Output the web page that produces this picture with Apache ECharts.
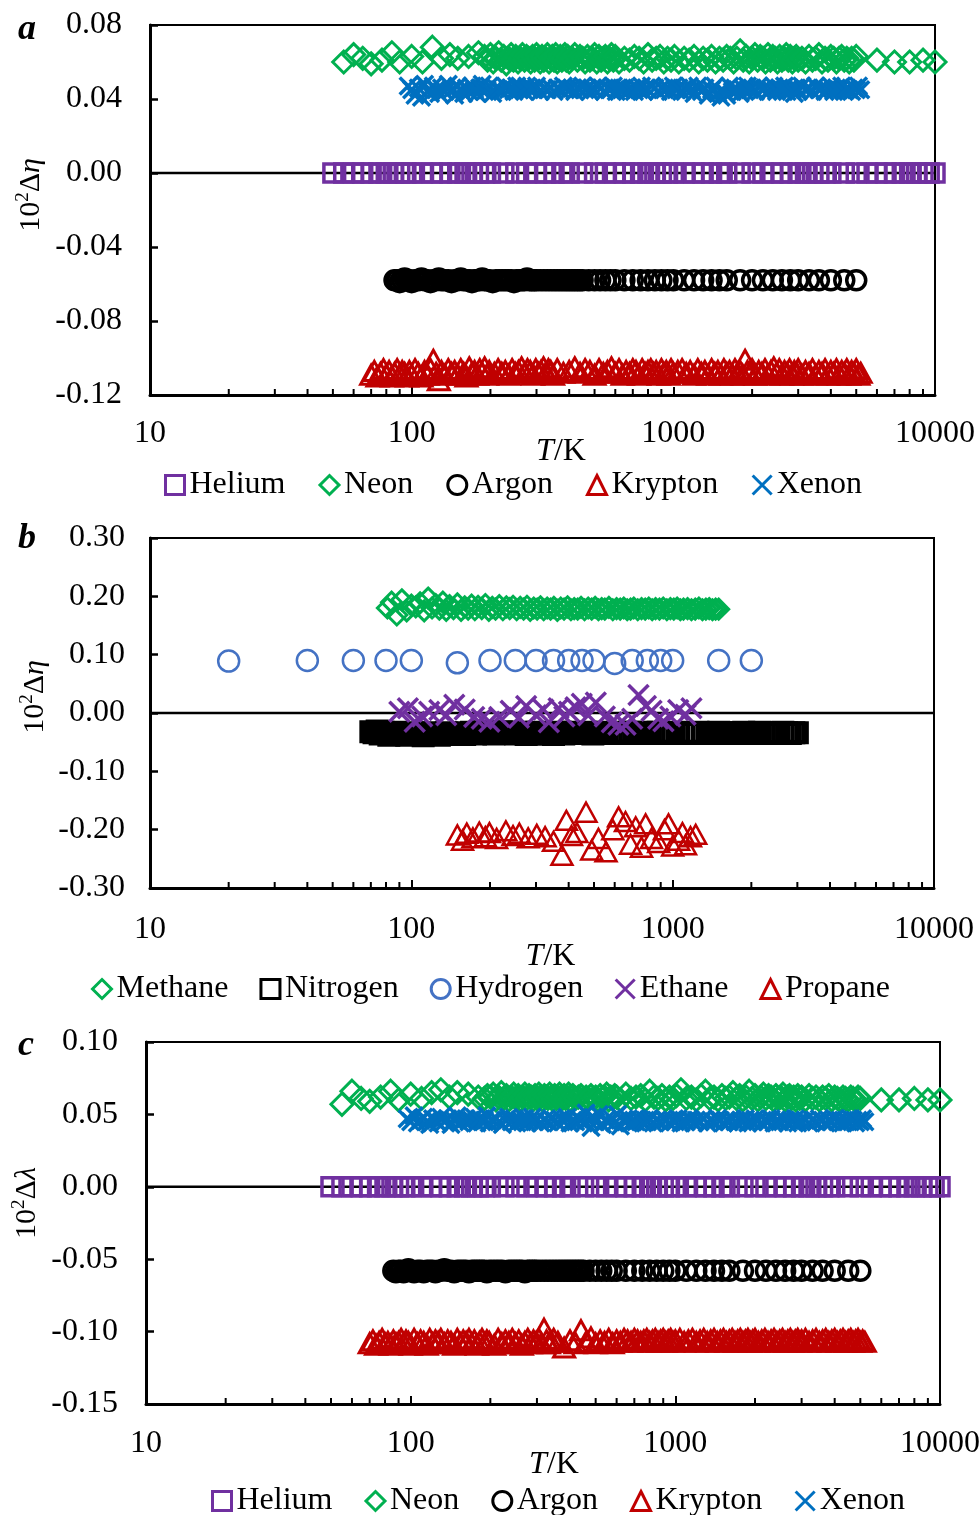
<!DOCTYPE html>
<html><head><meta charset="utf-8">
<script src="https://cdn.jsdelivr.net/npm/echarts@6/dist/echarts.min.js"></script>
<style>html,body{margin:0;padding:0;background:#fff}#c{width:979px;height:1515px}</style>
</head><body><div id="c"></div>
<script>
const FONT = '"Liberation Serif","Times New Roman",serif';

// ---------- tick values ----------
const minorTickValues = [20,30,40,50,60,70,80,90,200,300,400,500,600,700,800,900,2000,3000,4000,5000,6000,7000,8000,9000];

// ---------- panels a & c : noble gases (temperatures, K) ----------
const heliumT = [50,55,60,65,70,75,80,85,90,95,100,110,120,130,140,150,160,170,180,190,200,225,250,275,300,325,350,375,400,450,500,550,600,650,700,750,800,850,900,950,1000,1100,1200,1300,1400,1500,1600,1800,2000,2200,2400,2600,2800,3000,3200,3400,3600,3800,4000,4500,5000,5500,6000,6500,7000,7500,8000,8500,9000,9500,10000];
const neonT = [55,60,65,70,77,84,90,100,110,120,130,140,150,165,180,
  190,195,200,205,210,215,220,225,230,235,240,245,250,255,260,265,270,275,280,285,290,295,300,305,310,315,320,325,330,335,340,345,350,355,360,365,370,375,380,385,390,395,400,
  410,420,430,440,450,460,470,480,490,500,510,520,530,540,550,560,570,580,590,600,
  620,650,680,710,740,770,800,830,860,890,920,950,980,1010,
  1050,1100,1150,1200,1250,1300,1350,1400,1450,1500,1550,1600,1650,1700,
  1750,1800,1850,1900,1950,2000,2050,2100,2150,2200,2250,2300,2350,2400,2450,2500,2550,2600,2650,2700,2750,2800,2850,2900,2950,3000,
  3100,3200,3300,3400,3500,3600,3700,3800,3900,4000,4100,4200,4300,4400,4500,4600,4700,4800,4900,5000,
  6000,7000,8000,9000,10000];
const argonT = [86,88,90,92,94,96,98,100,
  103,106,109,112,115,118,121,124,127,130,
  134,138,142,146,150,154,158,162,166,170,174,178,182,186,190,194,198,
  204,210,216,222,228,234,240,246,252,258,264,270,276,282,288,294,300,
  310,320,330,340,350,360,370,380,390,400,410,420,430,440,450,
  475,500,525,550,575,600,
  650,700,750,800,850,900,950,1000,
  1100,1200,1300,1400,1500,1600,1800,2000,2200,2400,2600,2800,3000,3300,3600,4000,4500,5000];
const kryptonT = [70,72,74,76,78,80,82,84,86,88,90,92,94,96,98,100,
  103,106,109,112,115,118,121,124,127,130,
  134,138,142,146,150,154,158,162,166,170,174,178,182,186,190,194,198,
  207,214,221,228,235,242,249,256,263,270,277,284,291,298,305,312,319,326,333,340,347,
  360,380,400,420,440,460,480,500,520,540,560,580,600,
  620,640,660,680,700,720,740,760,780,800,820,840,860,880,900,920,940,960,980,1000,
  1040,1080,1120,1160,1200,1240,1280,1320,1360,1400,1440,1480,1520,1560,1600,1640,1680,1720,1760,1800,1840,1880,1920,1960,2000,
  2060,2120,2180,2240,2300,2360,2420,2480,2540,2600,2660,2720,2780,2840,2900,2960,3000,
  3100,3200,3300,3400,3500,3600,3700,3800,3900,4000,4100,4200,4300,4400,4500,4600,4700,4800,4900,5000,5100,5200];
const xenonT = [97,
  100,103,106,109,112,115,118,121,124,127,130,
  134,138,142,146,150,154,158,162,166,170,174,178,182,186,190,194,198,
  204,210,216,222,228,234,240,246,252,258,264,270,276,282,288,294,300,
  310,320,330,340,350,360,370,380,390,400,410,420,430,440,450,460,470,480,490,500,
  515,530,545,560,575,590,605,620,635,650,665,680,695,710,725,740,755,770,785,800,
  825,850,875,900,925,950,975,1000,1025,1050,1075,1100,1125,1150,1175,1200,
  1240,1280,1320,1360,1400,1440,1480,1520,1560,1600,1640,1680,1720,1760,1800,1840,1880,1920,1960,2000,
  2060,2120,2180,2240,2300,2360,2420,2480,2540,2600,2660,2720,2780,2840,2900,2960,3000,
  3100,3200,3300,3400,3500,3600,3700,3800,3900,4000,4100,4200,4300,4400,4500,4600,4700,4800,4900,5000,5100,5200];

// panel a: 10^2 Δη
const heliumDevA = [0,0,0,0,0,0,0,0,0,0,0,0,0,0,0,0,0,0,0,0,0,0,0,0,0,0,0,0,0,0,0,0,0,0,0,0,0,0,0,0,0,0,0,0,0,0,0,0,0,0,0,0,0,0,0,0,0,0,0,0,0,0,0,0,0,0,0,0,0,0,0];
const neonDevA = [0.060,0.064,0.062,0.059,0.061,0.065,0.060,0.063,0.060,0.068,0.062,0.064,0.062,0.063,0.065,
  0.063,0.061,0.064,0.060,0.062,0.065,0.061,0.063,0.059,0.062,
  0.064,0.061,0.063,0.060,0.062,0.064,0.061,0.063,0.062,0.060,
  0.063,0.061,0.064,0.062,0.060,0.063,0.061,0.062,0.064,0.060,
  0.062,0.063,0.061,0.064,0.060,0.062,0.063,0.061,0.062,0.064,
  0.061,0.063,0.060,0.062,0.064,0.061,0.063,0.062,0.060,0.063,
  0.061,0.062,0.064,0.060,0.063,0.061,0.062,0.063,0.060,0.062,
  0.064,0.061,0.063,0.060,0.062,0.061,0.063,0.062,0.060,0.064,
  0.061,0.062,0.063,0.060,0.062,0.061,0.063,0.060,0.062,0.061,
  0.063,0.060,0.062,0.061,0.063,0.060,0.062,0.061,0.063,0.062,
  0.060,0.062,0.066,0.061,0.063,0.060,0.062,0.064,0.061,0.063,
  0.062,0.060,0.064,0.061,0.063,0.062,0.060,0.063,0.061,0.062,
  0.064,0.061,0.063,0.060,0.062,0.063,0.061,0.062,0.060,0.063,
  0.061,0.062,0.064,0.060,0.062,0.061,0.063,0.062,0.060,0.062,
  0.063,0.061,0.062,0.060,0.062,0.061,0.063,
  0.061,0.060,0.060,0.061,0.060];
const argonDevA = [-0.058,-0.058,-0.059,-0.058,-0.057,-0.058,-0.058,-0.059,-0.058,-0.058,
  -0.057,-0.058,-0.058,-0.059,-0.058,-0.058,-0.057,-0.058,-0.058,-0.058,
  -0.059,-0.058,-0.058,-0.057,-0.058,-0.058,-0.058,-0.059,-0.058,-0.058,
  -0.058,-0.057,-0.058,-0.058,-0.058,-0.059,-0.058,-0.058,-0.058,-0.058,
  -0.058,-0.058,-0.059,-0.058,-0.058,-0.058,-0.058,-0.057,-0.058,-0.058,
  -0.058,-0.058,-0.058,-0.058,-0.058,-0.058,-0.058,-0.058,-0.058,-0.058,
  -0.058,-0.058,-0.058,-0.058,-0.058,-0.058,-0.058,-0.058,-0.058,-0.058,
  -0.058,-0.058,-0.058,-0.058,-0.058,-0.058,-0.058,-0.058,-0.058,-0.058,
  -0.058,-0.058,-0.058,-0.058,-0.058,-0.058,-0.058,-0.058,-0.058,-0.058,
  -0.058,-0.058,-0.058,-0.058,-0.058,-0.058,-0.058,-0.058,-0.058];
const kryptonDevA = [-0.109,-0.107,-0.110,-0.108,-0.106,-0.109,-0.107,-0.110,-0.108,-0.106,
  -0.109,-0.107,-0.108,-0.110,-0.107,-0.109,-0.106,-0.108,-0.110,-0.107,
  -0.109,-0.106,-0.101,-0.108,-0.112,-0.107,-0.109,-0.106,-0.108,-0.107,
  -0.109,-0.106,-0.108,-0.110,-0.105,-0.108,-0.107,-0.109,-0.106,-0.108,
  -0.105,-0.109,-0.107,-0.108,-0.106,-0.108,-0.107,-0.109,-0.106,-0.108,
  -0.107,-0.105,-0.108,-0.106,-0.107,-0.109,-0.106,-0.108,-0.107,-0.105,
  -0.108,-0.106,-0.107,-0.109,-0.106,-0.108,-0.107,-0.105,-0.108,-0.106,
  -0.107,-0.109,-0.106,-0.108,-0.107,-0.105,-0.108,-0.106,-0.109,-0.107,
  -0.108,-0.106,-0.107,-0.109,-0.106,-0.108,-0.107,-0.106,-0.108,-0.107,
  -0.109,-0.106,-0.108,-0.107,-0.109,-0.106,-0.108,-0.107,-0.106,-0.108,
  -0.107,-0.109,-0.106,-0.108,-0.107,-0.109,-0.106,-0.108,-0.107,-0.109,
  -0.106,-0.108,-0.107,-0.109,-0.106,-0.108,-0.107,-0.109,-0.101,-0.107,
  -0.108,-0.106,-0.109,-0.107,-0.108,-0.106,-0.109,-0.107,-0.105,-0.108,
  -0.106,-0.109,-0.107,-0.108,-0.106,-0.109,-0.107,-0.108,-0.106,-0.109,
  -0.107,-0.108,-0.106,-0.109,-0.107,-0.108,-0.106,-0.109,-0.107,-0.108,
  -0.106,-0.109,-0.107,-0.108,-0.106,-0.109,-0.107,-0.108,-0.106,-0.109,
  -0.108];
const xenonDevA = [0.047,0.045,0.042,0.046,0.041,0.048,0.044,0.043,0.047,0.045,
  0.043,0.046,0.044,0.048,0.045,0.042,0.047,0.045,0.043,0.046,
  0.044,0.047,0.045,0.043,0.046,0.048,0.044,0.045,0.047,0.043,
  0.046,0.045,0.044,0.047,0.045,0.046,0.044,0.047,0.045,0.046,
  0.044,0.047,0.045,0.046,0.045,0.047,0.044,0.046,0.045,0.046,
  0.044,0.046,0.045,0.047,0.046,0.045,0.046,0.044,0.046,0.045,
  0.047,0.045,0.046,0.044,0.046,0.045,0.047,0.046,0.044,0.046,
  0.045,0.047,0.044,0.046,0.045,0.046,0.044,0.045,0.046,0.044,
  0.046,0.045,0.047,0.044,0.046,0.045,0.047,0.046,0.044,0.046,
  0.045,0.046,0.044,0.047,0.045,0.046,0.044,0.046,0.045,0.047,
  0.045,0.043,0.047,0.044,0.046,0.042,0.045,0.047,0.043,0.041,
  0.044,0.042,0.047,0.044,0.046,0.045,0.043,0.046,0.044,0.047,
  0.045,0.046,0.044,0.047,0.045,0.046,0.044,0.045,0.047,0.044,
  0.046,0.045,0.047,0.044,0.046,0.045,0.043,0.046,0.044,0.047,
  0.045,0.046,0.044,0.047,0.045,0.046,0.044,0.045,0.047,0.044,
  0.046,0.045,0.047,0.044,0.046,0.045,0.044,0.046,0.045,0.047,
  0.045];

// panel c: 10^2 Δλ
const heliumDevC = [0,0,0,0,0,0,0,0,0,0,0,0,0,0,0,0,0,0,0,0,0,0,0,0,0,0,0,0,0,0,0,0,0,0,0,0,0,0,0,0,0,0,0,0,0,0,0,0,0,0,0,0,0,0,0,0,0,0,0,0,0,0,0,0,0,0,0,0,0,0,0];
const neonDevC = [0.057,0.066,0.061,0.059,0.062,0.066,0.060,0.064,0.061,0.065,0.067,0.062,0.065,0.064,0.062,
  0.061,0.063,0.062,0.064,0.060,0.062,0.065,0.061,0.063,0.060,
  0.062,0.064,0.061,0.063,0.060,0.062,0.064,0.061,0.063,0.062,
  0.060,0.063,0.061,0.064,0.062,0.060,0.063,0.062,0.061,0.064,
  0.062,0.060,0.063,0.061,0.062,0.064,0.060,0.062,0.063,0.061,
  0.062,0.064,0.060,0.063,0.061,0.062,0.063,0.060,0.062,0.061,
  0.063,0.061,0.062,0.060,0.063,0.061,0.062,0.064,0.060,0.062,
  0.061,0.063,0.062,0.060,0.064,0.061,0.062,0.063,0.060,0.066,
  0.062,0.061,0.063,0.060,0.062,0.061,0.063,0.067,0.061,0.062,
  0.060,0.063,0.066,0.061,0.062,0.060,0.063,0.061,0.062,0.065,
  0.061,0.063,0.060,0.062,0.066,0.061,0.063,0.060,0.062,0.064,
  0.061,0.063,0.062,0.060,0.063,0.061,0.062,0.064,0.060,0.062,
  0.063,0.061,0.062,0.060,0.063,0.061,0.062,0.060,0.063,0.061,
  0.062,0.060,0.062,0.061,0.063,0.060,0.062,0.061,0.060,0.062,
  0.061,0.060,0.062,0.061,0.060,0.062,0.061,
  0.060,0.060,0.061,0.060,0.060];
const argonDevC = [-0.058,-0.059,-0.058,-0.058,-0.059,-0.058,-0.057,-0.058,-0.059,-0.058,
  -0.058,-0.059,-0.058,-0.058,-0.058,-0.059,-0.058,-0.058,-0.057,-0.058,
  -0.058,-0.059,-0.058,-0.058,-0.058,-0.058,-0.059,-0.058,-0.058,-0.058,
  -0.058,-0.058,-0.058,-0.059,-0.058,-0.058,-0.058,-0.058,-0.058,-0.059,
  -0.058,-0.058,-0.058,-0.058,-0.058,-0.058,-0.059,-0.058,-0.058,-0.058,
  -0.058,-0.058,-0.058,-0.058,-0.058,-0.058,-0.058,-0.058,-0.058,-0.058,
  -0.058,-0.058,-0.058,-0.058,-0.058,-0.058,-0.058,-0.058,-0.058,-0.058,
  -0.058,-0.058,-0.058,-0.058,-0.058,-0.058,-0.058,-0.058,-0.058,-0.058,
  -0.058,-0.058,-0.058,-0.058,-0.058,-0.058,-0.058,-0.058,-0.058,-0.058,
  -0.058,-0.058,-0.058,-0.058,-0.058,-0.058,-0.058,-0.058,-0.058];
const kryptonDevC = [-0.108,-0.106,-0.109,-0.107,-0.105,-0.108,-0.107,-0.109,-0.106,-0.108,
  -0.107,-0.105,-0.108,-0.106,-0.107,-0.109,-0.105,-0.108,-0.106,-0.107,
  -0.109,-0.105,-0.108,-0.106,-0.107,-0.105,-0.108,-0.106,-0.107,-0.109,
  -0.105,-0.108,-0.106,-0.107,-0.105,-0.108,-0.106,-0.109,-0.107,-0.105,
  -0.108,-0.106,-0.107,-0.109,-0.105,-0.108,-0.106,-0.107,-0.105,-0.108,
  -0.106,-0.109,-0.107,-0.105,-0.108,-0.106,-0.107,-0.105,-0.108,-0.098,
  -0.106,-0.108,-0.107,-0.105,-0.107,-0.111,-0.106,-0.108,-0.099,-0.107,
  -0.104,-0.108,-0.106,-0.107,-0.105,-0.108,-0.106,-0.107,-0.105,-0.106,
  -0.107,-0.105,-0.106,-0.107,-0.106,-0.105,-0.107,-0.106,-0.105,-0.107,
  -0.106,-0.105,-0.107,-0.106,-0.105,-0.107,-0.106,-0.105,-0.107,-0.106,
  -0.105,-0.107,-0.106,-0.105,-0.107,-0.106,-0.105,-0.107,-0.106,-0.105,
  -0.107,-0.106,-0.105,-0.107,-0.106,-0.105,-0.107,-0.106,-0.105,-0.107,
  -0.106,-0.105,-0.107,-0.106,-0.105,-0.107,-0.106,-0.105,-0.107,-0.106,
  -0.105,-0.107,-0.106,-0.105,-0.107,-0.106,-0.105,-0.107,-0.106,-0.105,
  -0.107,-0.106,-0.105,-0.107,-0.106,-0.105,-0.107,-0.106,-0.105,-0.107,
  -0.106,-0.105,-0.107,-0.106,-0.105,-0.107,-0.106,-0.105,-0.107,-0.106,
  -0.107];
const xenonDevC = [0.047,0.045,0.049,0.044,0.046,0.048,0.045,0.043,0.047,0.046,
  0.044,0.048,0.045,0.047,0.043,0.046,0.049,0.044,0.046,0.047,
  0.045,0.046,0.048,0.044,0.047,0.045,0.046,0.049,0.044,0.046,
  0.047,0.045,0.043,0.046,0.048,0.045,0.047,0.044,0.046,0.045,
  0.047,0.044,0.046,0.048,0.045,0.047,0.044,0.046,0.045,0.047,
  0.046,0.044,0.047,0.045,0.048,0.044,0.046,0.045,0.047,0.046,
  0.044,0.051,0.046,0.041,0.048,0.045,0.050,0.043,0.046,0.045,
  0.047,0.044,0.050,0.042,0.046,0.045,0.047,0.044,0.046,0.045,
  0.047,0.046,0.044,0.046,0.045,0.047,0.044,0.046,0.045,0.047,
  0.046,0.044,0.046,0.045,0.047,0.044,0.046,0.045,0.047,0.046,
  0.044,0.046,0.045,0.047,0.044,0.046,0.045,0.047,0.046,0.044,
  0.046,0.045,0.047,0.045,0.044,0.046,0.045,0.047,0.044,0.046,
  0.045,0.047,0.046,0.044,0.046,0.045,0.047,0.044,0.046,0.045,
  0.047,0.046,0.044,0.046,0.045,0.047,0.044,0.046,0.045,0.046,
  0.044,0.046,0.045,0.047,0.046,0.044,0.046,0.045,0.047,0.045,
  0.046,0.044,0.046,0.045,0.047,0.046,0.044,0.046,0.045,0.047,
  0.045];

// ---------- panel b : molecular gases ----------
const methaneT = [81,84,88,92,96,100,104,108,112,116,120,124,128,132,136,140,145,150,155,160,165,170,175,180,186,192,198,204,210,217,224,231,238,245,253,261,269,277,285,294,303,312,321,331,341,351,362,373,384,396,408,420,433,446,460,475,490,505,520,535,550,570,590,610,630,650,670,690,710,735,760,785,810,835,860,890,920,950,980,1010,1040,1070,1100,1140,1180,1220,1260,1300,1340,1380,1420,1460,1500];
const methaneDev = [0.180,0.190,0.168,0.194,0.175,
  0.185,0.182,0.189,0.175,0.197,0.180,0.186,0.178,0.190,0.176,0.184,
  0.179,0.187,0.176,0.182,0.178,0.185,0.177,0.183,
  0.179,0.186,0.176,0.181,0.178,
  0.184,0.177,0.182,0.179,0.183,
  0.177,0.181,0.178,0.183,0.176,
  0.180,0.178,0.182,0.177,
  0.180,0.178,0.181,
  0.176,0.180,0.178,
  0.182,0.177,0.179,
  0.178,0.181,0.177,
  0.180,0.178,0.181,0.177,0.179,0.178,
  0.181,0.177,0.179,0.178,0.180,0.177,0.178,0.180,
  0.177,0.179,0.178,0.180,0.177,0.179,
  0.178,0.180,0.177,0.179,0.178,0.180,0.177,0.178,
  0.179,0.177,0.178,0.180,0.177,0.178,0.179,0.177,0.178,0.178];
const nitrogenT = [70,72,74,76,78,80,82,84,86,88,90,93,96,99,102,105,108,111,114,117,120,124,128,132,136,140,145,150,155,160,165,170,176,182,188,194,200,207,214,221,228,235,243,251,259,267,275,284,293,302,311,320,330,340,350,361,372,383,394,405,417,429,441,453,466,480,495,510,525,540,560,580,600,620,640,660,685,710,735,760,790,820,850,880,910,940,970,1000,1050,1100,1150,1200,1250,1300,1350,1400,1450,1500,1560,1620,1680,1740,1800,1870,1940,2010,2080,2150,2230,2310,2390,2470,2550,2640,2730,2820,2910,3000];
const nitrogenDev = [-0.032,-0.034,-0.031,-0.036,-0.033,-0.035,-0.038,-0.034,-0.036,-0.033,-0.037,
  -0.035,-0.038,-0.036,-0.034,-0.037,-0.035,-0.039,-0.036,-0.034,-0.037,
  -0.035,-0.038,-0.036,-0.034,-0.037,-0.035,-0.036,-0.034,-0.037,-0.035,
  -0.033,-0.036,-0.034,-0.032,-0.035,-0.033,-0.036,-0.034,-0.032,-0.035,
  -0.033,-0.034,-0.036,-0.033,-0.035,-0.037,-0.034,-0.036,-0.033,-0.035,
  -0.034,-0.036,-0.034,-0.037,-0.035,-0.033,-0.036,-0.034,-0.035,-0.033,
  -0.035,-0.034,-0.035,-0.033,-0.034,-0.036,-0.034,-0.035,-0.033,-0.034,
  -0.035,-0.034,-0.033,-0.035,-0.034,-0.033,-0.035,-0.034,-0.033,-0.034,
  -0.035,-0.034,-0.033,-0.035,-0.034,-0.034,-0.035,-0.033,-0.034,-0.035,
  -0.034,-0.033,-0.035,-0.034,-0.034,-0.035,-0.033,-0.034,-0.035,-0.034,
  -0.034,-0.035,-0.033,-0.034,-0.035,-0.034,-0.033,-0.034,-0.035,-0.034,
  -0.034,-0.035,-0.033,-0.034,-0.035,-0.034,-0.034];
const hydrogenT = [20,40,60,80,100,150,200,250,300,350,400,450,500,600,700,800,900,1000,1500,2000];
const hydrogenDev = [0.089,0.090,0.090,0.090,0.090,0.086,0.090,0.090,0.090,0.090,0.090,0.090,0.090,0.085,0.090,0.090,0.090,0.090,0.090,0.090];
const ethaneT = [90,97,103,110,117,128,136,146,160,174,186,199,217,240,258,275,300,320,336,366,385,401,425,449,475,508,550,585,620,660,700,740,790,830,880,922,980,1050,1120,1180];
const ethaneDev = [0.002,0.008,-0.015,-0.006,0.002,0.005,-0.004,0.014,0.006,-0.007,-0.010,-0.015,-0.007,0.004,-0.008,0.012,-0.004,0.006,-0.016,0.008,-0.006,0.002,0.010,0.016,-0.004,0.018,-0.006,-0.016,-0.020,-0.020,-0.010,0.031,0.012,0.004,-0.010,-0.014,-0.006,0.005,-0.003,0.008];
const propaneT = [150,157,163,172,182,192,199,212,230,245,259,280,302,325,350,377,392,410,430,466,490,520,556,590,621,660,690,722,760,788,830,884,930,964,1000,1053,1090,1120,1170,1225];
const propaneDev = [-0.209,-0.218,-0.206,-0.214,-0.204,-0.212,-0.205,-0.215,-0.202,-0.210,-0.206,-0.214,-0.208,-0.212,-0.220,-0.244,-0.184,-0.210,-0.205,-0.170,-0.235,-0.215,-0.238,-0.200,-0.178,-0.186,-0.225,-0.195,-0.230,-0.190,-0.215,-0.222,-0.200,-0.190,-0.228,-0.218,-0.205,-0.226,-0.212,-0.208];

const legendNoble = ['Helium','Neon','Argon','Krypton','Xenon'];
const legendMolecular = ['Methane','Nitrogen','Hydrogen','Ethane','Propane'];

// ---------- styles ----------
const C = {purple:'#7030A0', green:'#00B050', black:'#000000', red:'#C00000', blue:'#0070C0', lblue:'#4472C4'};
const MK = {
  Helium:{shape:'rect', w:18, h:18, color:C.purple, bw:3.5},
  Neon:{shape:'diamond', w:22, h:22, color:C.green, bw:3},
  Argon:{shape:'circle', w:19, h:19, color:C.black, bw:3.5},
  Krypton:{shape:'triangle', w:21, h:19, color:C.red, bw:3},
  Xenon:{shape:'cross', w:17, h:17, color:C.blue, bw:3.5},
  Methane:{shape:'diamond', w:20, h:20, color:C.green, bw:3},
  Nitrogen:{shape:'rect', w:19, h:19, color:C.black, bw:4},
  Hydrogen:{shape:'circle', w:21, h:21, color:C.lblue, bw:2.5},
  Ethane:{shape:'cross', w:20, h:20, color:C.purple, bw:3.5},
  Propane:{shape:'triangle', w:21, h:19, color:C.red, bw:2.5}
};
const ICON = {rect:'rect', diamond:'diamond', circle:'circle', triangle:'triangle', cross:'path://M0,0L10,10M10,0L0,10'};

function pairs(T, Y){ return T.map((t,i)=>[t, Y[i]]); }
function drawMarker(m, x, y){
  const style = {fill:'none', stroke:m.color, lineWidth:m.bw};
  const w = m.w/2, h = m.h/2;
  switch(m.shape){
    case 'rect': return {type:'rect', shape:{x:x-w, y:y-h, width:m.w, height:m.h}, style};
    case 'circle': return {type:'circle', shape:{cx:x, cy:y, r:w}, style};
    case 'diamond': return {type:'polygon', shape:{points:[[x,y-h],[x+w,y],[x,y+h],[x-w,y]]}, style};
    case 'triangle': return {type:'polygon', shape:{points:[[x,y-h],[x+w,y+h],[x-w,y+h]]}, style};
    default: return {type:'group', children:[
      {type:'line', shape:{x1:x-w, y1:y-h, x2:x+w, y2:y+h}, style},
      {type:'line', shape:{x1:x+w, y1:y-h, x2:x-w, y2:y+h}, style}]};
  }
}
function markers(name, gi, T, Y){
  const m = MK[name];
  return {type:'custom', name, xAxisIndex:gi, yAxisIndex:gi, data:pairs(T,Y), encode:{x:0, y:1},
    silent:true, animation:false, clip:false,
    renderItem(params, api){
      const p = api.coord([api.value(0), api.value(1)]);
      return drawMarker(m, p[0], p[1]);
    }};
}
function zeroLine(gi){
  return {type:'custom', xAxisIndex:gi, yAxisIndex:gi, data:[[10,0]], encode:{x:0, y:1},
    silent:true, animation:false, clip:false,
    renderItem(params, api){
      const cs = params.coordSys;
      const y = api.coord([api.value(0), api.value(1)])[1];
      return {type:'line', shape:{x1:cs.x, y1:y, x2:cs.x+cs.width, y2:y}, style:{stroke:'#000', lineWidth:2.5}};
    }};
}
function minorTicks(gi){
  return {type:'custom', xAxisIndex:gi, yAxisIndex:gi, data:minorTickValues.map(v=>[v,0]), encode:{x:0, y:1},
    silent:true, z:10, clip:false, animation:false,
    renderItem(params, api){
      const cs = params.coordSys;
      const x = api.coord([api.value(0), api.value(1)])[0];
      const yb = cs.y + cs.height;
      return {type:'line', shape:{x1:x, y1:yb, x2:x, y2:yb-6}, style:{stroke:'#000', lineWidth:2}};
    }};
}
function xAxis(gi, margin, nameGap, padLeft){
  return {type:'log', logBase:10, gridIndex:gi, min:10, max:10000,
    axisLine:{show:true, onZero:false, lineStyle:{color:'#000', width:3}},
    axisTick:{show:true, inside:true, length:8, lineStyle:{color:'#000', width:2}},
    axisLabel:{show:true, margin, fontFamily:FONT, fontSize:32, color:'#000', showMinLabel:true, showMaxLabel:true,
      formatter:v=>String(Math.round(v))},
    splitLine:{show:false}, minorTick:{show:false}, minorSplitLine:{show:false},
    name:'{i|T}/K', nameLocation:'middle', nameGap, nameMoveOverlap:false,
    nameTextStyle:{fontFamily:FONT, fontSize:32, color:'#000', padding:[0,0,0,padLeft],
      rich:{i:{fontFamily:FONT, fontSize:32, fontStyle:'italic', color:'#000'}}}
  };
}
function yAxis(gi, min, max, interval, margin, name, nameGap, padLeft){
  return {type:'value', gridIndex:gi, min, max, interval,
    axisLine:{show:true, onZero:false, lineStyle:{color:'#000', width:3}},
    axisTick:{show:true, inside:true, length:8, lineStyle:{color:'#000', width:2.5}},
    axisLabel:{margin, fontFamily:FONT, fontSize:32, color:'#000',
      formatter:v=>Math.abs(v)<1e-9 ? '0.00' : v.toFixed(2)},
    splitLine:{show:false},
    name, nameLocation:'middle', nameGap, nameRotate:90, nameMoveOverlap:false,
    nameTextStyle:{fontFamily:FONT, fontSize:30, color:'#000', padding:[0,0,0,padLeft], lineHeight:34,
      rich:{sup:{fontFamily:FONT, fontSize:19, color:'#000', verticalAlign:'top', lineHeight:34},
            i:{fontFamily:FONT, fontSize:30, fontStyle:'italic', color:'#000', lineHeight:34}}}
  };
}
function legend(names, left, top, gap){
  return {data:names.map(n=>({name:n, icon:ICON[MK[n].shape],
      itemStyle:{color:'rgba(255,255,255,0)', borderColor:MK[n].color, borderWidth:3}})),
    left, top, padding:0, itemGap:gap, itemWidth:19, itemHeight:19, selectedMode:false,
    textStyle:{fontFamily:FONT, fontSize:32, color:'#000'}};
}
const gridBase = {show:true, borderColor:'#000', borderWidth:2, backgroundColor:'rgba(0,0,0,0)', containLabel:false, outerBoundsMode:'none'};

const option = {
  animation:false,
  backgroundColor:'#fff',
  grid:[
    Object.assign({left:150, top:25, width:785, height:370}, gridBase),
    Object.assign({left:150, top:538, width:784, height:350}, gridBase),
    Object.assign({left:146, top:1042, width:794, height:362}, gridBase)
  ],
  xAxis:[ xAxis(0, 23, 41, 37), xAxis(1, 26, 53, 17), xAxis(2, 24, 45, 22) ],
  yAxis:[
    yAxis(0, -0.12, 0.08, 0.04, 28, '10{sup|2}Δ{i|η}', 102, 30),
    yAxis(1, -0.30, 0.30, 0.10, 25, '10{sup|2}Δ{i|η}', 98, 32),
    yAxis(2, -0.15, 0.10, 0.05, 28, '10{sup|2}Δ{i|λ}', 102, 40)
  ],
  legend:[
    legend(legendNoble, 164, 469, 33),
    legend(legendMolecular, 91, 973, 31),
    legend(legendNoble, 211, 1485, 32)
  ],
  graphic:[
    {type:'text', x:18, y:30, style:{text:'a', font:'italic bold 36px "Liberation Serif"', fill:'#000', verticalAlign:'middle'}},
    {type:'text', x:18, y:539, style:{text:'b', font:'italic bold 36px "Liberation Serif"', fill:'#000', verticalAlign:'middle'}},
    {type:'text', x:18, y:1046, style:{text:'c', font:'italic bold 36px "Liberation Serif"', fill:'#000', verticalAlign:'middle'}}
  ],
  series:[
    // panel a
    zeroLine(0),
    markers('Helium', 0, heliumT, heliumDevA),
    markers('Neon', 0, neonT, neonDevA),
    markers('Argon', 0, argonT, argonDevA),
    markers('Krypton', 0, kryptonT, kryptonDevA),
    markers('Xenon', 0, xenonT, xenonDevA),
    minorTicks(0),
    // panel b
    zeroLine(1),
    markers('Methane', 1, methaneT, methaneDev),
    markers('Nitrogen', 1, nitrogenT, nitrogenDev),
    markers('Hydrogen', 1, hydrogenT, hydrogenDev),
    markers('Ethane', 1, ethaneT, ethaneDev),
    markers('Propane', 1, propaneT, propaneDev),
    minorTicks(1),
    // panel c
    zeroLine(2),
    markers('Helium', 2, heliumT, heliumDevC),
    markers('Neon', 2, neonT, neonDevC),
    markers('Argon', 2, argonT, argonDevC),
    markers('Krypton', 2, kryptonT, kryptonDevC),
    markers('Xenon', 2, xenonT, xenonDevC),
    minorTicks(2)
  ]
};
const chart = echarts.init(document.getElementById('c'), null, {renderer:'canvas'});
chart.setOption(option);
</script></body></html>
